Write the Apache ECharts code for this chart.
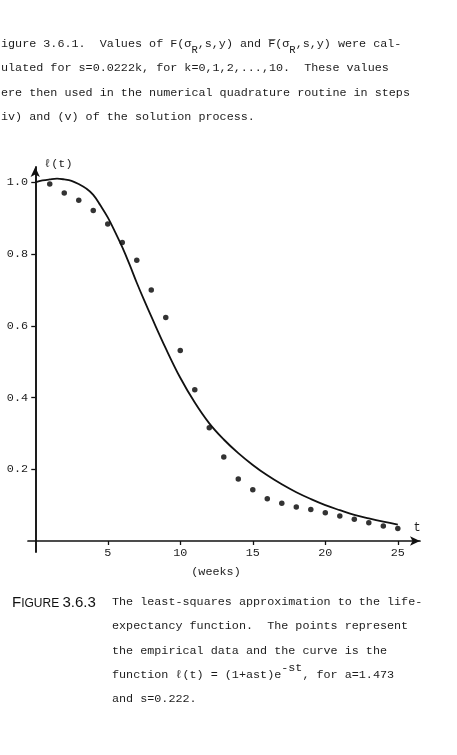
<!DOCTYPE html>
<html>
<head>
<meta charset="utf-8">
<script src="https://cdn.jsdelivr.net/npm/echarts@6/dist/echarts.min.js"></script>
<style>
	html, body { margin: 0; padding: 0; background: #fff; }
	#chart { width: 457px; height: 755px; }
</style>
</head>
<body>
<div id="chart"></div>
<script>
	// empirical data (points)
	var weeks = [1, 2, 3, 4, 5, 6, 7, 8, 9, 10, 11, 12, 13, 14, 15, 16, 17, 18, 19, 20, 21, 22, 23, 24, 25];
	var observed = [0.995, 0.970, 0.950, 0.921, 0.884, 0.832, 0.783, 0.700, 0.623, 0.531, 0.422, 0.316, 0.234,
		0.173, 0.143, 0.118, 0.105, 0.095, 0.088, 0.079, 0.070, 0.061, 0.051, 0.042, 0.035];

	// fitted curve
	var curveT = [0, 0.5, 1, 1.5, 2, 2.5, 3, 3.5, 4, 4.5, 5, 5.5, 6, 6.5, 7, 7.5, 8,
		9, 10, 11, 12, 13, 14, 15, 16, 17, 18, 19, 20, 21, 22, 23, 24, 25];
	var curveL = [1.000, 1.005, 1.008, 1.010, 1.008, 1.004, 0.995, 0.983, 0.965, 0.935, 0.902, 0.862, 0.819,
		0.771, 0.720, 0.672, 0.626,
		0.537, 0.455, 0.386, 0.328, 0.283, 0.245, 0.212, 0.183, 0.158, 0.136, 0.117, 0.100, 0.086, 0.073,
		0.063, 0.054, 0.046];

	var xTicks = [5, 10, 15, 20, 25];
	var yTicks = [0.2, 0.4, 0.6, 0.8, 1.0];

	var ink = '#1c1c1c';
	var mono = '"Liberation Mono", "DejaVu Sans Mono", monospace';
	var sans = '"Liberation Sans", "DejaVu Sans", sans-serif';

	var chart = echarts.init(document.getElementById('chart'));

	var points = [], curve = [];
	for (var i = 0; i < weeks.length; i++) {
		points.push([weeks[i], observed[i]]);
	}
	for (var j = 0; j < curveT.length; j++) {
		curve.push([curveT[j], curveL[j]]);
	}

	chart.setOption({
		animation: false,
		backgroundColor: '#fff',
		textStyle: { fontFamily: mono, color: ink },
		grid: {
			left: 28,
			top: 167,
			width: 392,
			height: 385,
			outerBoundsMode: 'none'
		},
		xAxis: {
			type: 'value',
			min: -0.5,
			max: 26.53,
			name: 't',
			nameLocation: 'end',
			nameGap: -3,
			nameMoveOverlap: false,
			nameTextStyle: {
				fontFamily: mono, fontSize: 12, color: ink,
				align: 'center', verticalAlign: 'bottom', padding: [0, 0, 7, 0]
			},
			axisLine: {
				onZero: true,
				symbol: ['none', 'arrow'],
				symbolSize: [7, 10],
				lineStyle: { color: '#111', width: 1.7 }
			},
			axisTick: { customValues: xTicks, length: 4, lineStyle: { color: '#111', width: 1.3 } },
			axisLabel: {
				customValues: xTicks,
				margin: -5,
				fontFamily: mono,
				fontSize: 11.75,
				color: ink
			},
			splitLine: { show: false }
		},
		yAxis: {
			type: 'value',
			min: -0.0306,
			max: 1.0426,
			name: 'ℓ(t)',
			nameLocation: 'end',
			nameGap: 3,
			nameMoveOverlap: false,
			nameTextStyle: {
				fontFamily: mono, fontSize: 11.75, color: ink,
				align: 'left', verticalAlign: 'middle', padding: [0, 0, 0, 9]
			},
			axisLine: {
				onZero: true,
				symbol: ['none', 'arrow'],
				symbolSize: [7, 10],
				lineStyle: { color: '#111', width: 1.9 }
			},
			axisTick: { customValues: yTicks, length: 4, lineStyle: { color: '#111', width: 1.3 } },
			axisLabel: {
				customValues: yTicks,
				margin: 0,
				fontFamily: mono,
				fontSize: 11.75,
				color: ink,
				formatter: function (v) { return v.toFixed(1); }
			},
			splitLine: { show: false }
		},
		series: [{
			name: 'fit',
			type: 'line',
			data: curve,
			smooth: 0.4,
			showSymbol: false,
			lineStyle: { color: '#111', width: 1.8 }
		}, {
			name: 'data',
			type: 'scatter',
			data: points,
			symbol: 'circle',
			symbolSize: 5.5,
			itemStyle: { color: '#000' }
		}],
		graphic: [{
			type: 'text',
			x: 1,
			y: 31.8,
			style: {
				text: 'igure 3.6.1.  Values of F(σ{s|R},s,y) and F\u0305(σ{s|R},s,y) were cal-\n' +
					'ulated for s=0.0222k, for k=0,1,2,...,10.  These values\n' +
					'ere then used in the numerical quadrature routine in steps\n' +
					'iv) and (v) of the solution process.',
				font: '11.75px ' + mono,
				fill: ink,
				lineHeight: 24.3,
				verticalAlign: 'top',
				rich: {
					s: { fontSize: 10.5, fontFamily: mono, fill: ink, padding: [12, 0, 0, 0] }
				}
			}
		}, {
			type: 'text',
			x: 216,
			y: 571.5,
			style: {
				text: '(weeks)',
				font: '11.75px ' + mono,
				fill: ink,
				align: 'center',
				verticalAlign: 'middle'
			}
		}, {
			type: 'text',
			x: 12,
			y: 602,
			style: {
				text: '{f|F}{g|IGURE} {f|3.6.3}',
				fill: '#111',
				verticalAlign: 'middle',
				rich: {
					f: { fontSize: 15, fontFamily: sans, fill: '#111', verticalAlign: 'bottom', lineHeight: 16 },
					g: { fontSize: 12, fontFamily: sans, fill: '#111', verticalAlign: 'bottom', lineHeight: 16 }
				}
			}
		}, {
			type: 'text',
			x: 112,
			y: 589.5,
			style: {
				text: 'The least-squares approximation to the life-\n' +
					'expectancy function.  The points represent\n' +
					'the empirical data and the curve is the\n' +
					'function ℓ(t) = (1+ast)e{p|-st}, for a=1.473\n' +
					'and s=0.222.',
				font: '11.75px ' + mono,
				fill: ink,
				lineHeight: 24.4,
				verticalAlign: 'top',
				rich: {
					p: { fontSize: 11.75, fontFamily: mono, fill: ink, padding: [0, 0, 14, 0] }
				}
			}
		}]
	});
</script>
</body>
</html>
